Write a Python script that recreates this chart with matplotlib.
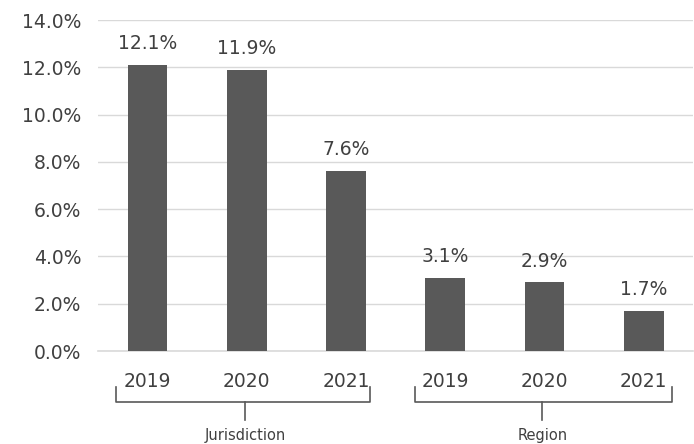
import matplotlib
matplotlib.use("Agg")
import matplotlib.pyplot as plt
import numpy as np

groups = ["Jurisdiction", "Region"]
years = ["2019", "2020", "2021"]
values = [12.1, 11.9, 7.6, 3.1, 2.9, 1.7]

plt.rcParams['font.family'] = ['DejaVu Sans']
txt = "#404040"

fig = plt.figure(figsize=(6.94, 4.44), dpi=100)
ax = fig.add_axes([98/694, 1 - 351/444, 1 - 98/694 - 0.001, 331/444])

x = np.arange(len(values))
ax.bar(x, values, width=0.4, color="#595959", zorder=3)
for xi, v in zip(x, values):
    ax.text(xi, v + 0.5, f"{v:.1f}%", ha="center", va="bottom", fontsize=13.5, color=txt)

ax.set_xlim(-0.5, len(values) - 0.5)
ax.set_ylim(0, 14)
ax.set_yticks(np.arange(0, 15, 2))
ax.set_yticklabels([f"{t:.1f}%" for t in np.arange(0, 15, 2)], fontsize=13.5, color=txt)
ax.set_xticks(x)
ax.set_xticklabels(years * len(groups), fontsize=13.5, color=txt)
ax.tick_params(axis="both", length=0)
ax.tick_params(axis="x", pad=15)
ax.tick_params(axis="y", pad=12)
ax.grid(axis="y", color="#d9d9d9", linewidth=1.0, zorder=0)
ax.axhline(0, color="#d9d9d9", linewidth=1.2, zorder=2, clip_on=False)
for s in ax.spines.values():
    s.set_visible(False)

# group brackets under the year labels
trans = ax.get_xaxis_transform()
brackets = [(-0.32, 2.24, 0.98), (2.69, 5.29, 3.98)]
for (l, r, c), name in zip(brackets, groups):
    ax.plot([l, l, r, r], [-0.109, -0.154, -0.154, -0.109], color="#595959",
            lw=1.2, transform=trans, clip_on=False)
    ax.plot([c, c], [-0.154, -0.208], color="#595959", lw=1.2,
            transform=trans, clip_on=False)
    ax.text(c, -0.255, name, ha="center", va="center", fontsize=10.5,
            color=txt, transform=trans)

fig.savefig("out.png", dpi=100)
